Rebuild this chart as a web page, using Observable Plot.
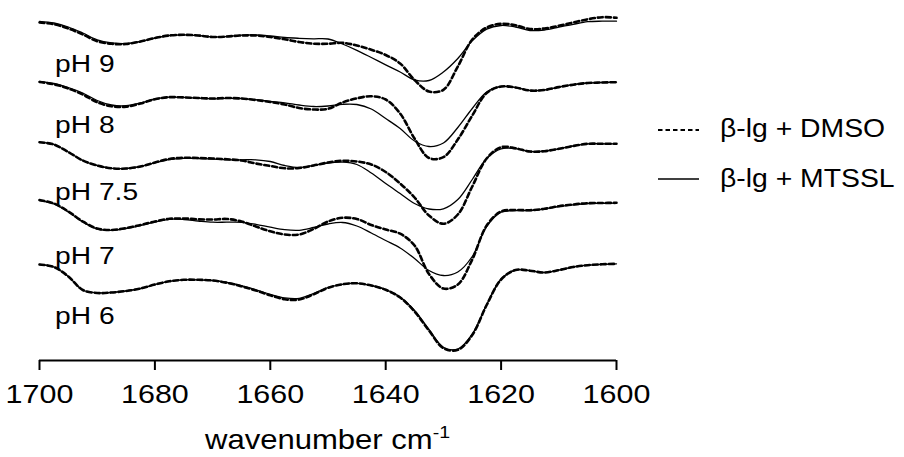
<!DOCTYPE html>
<html><head><meta charset="utf-8">
<script src="https://cdn.jsdelivr.net/npm/d3@7"></script>
<script src="https://cdn.jsdelivr.net/npm/@observablehq/plot@0.6"></script>
<style>
body{margin:0;background:#fff;}
#chart{position:relative;width:904px;height:457px;}
</style>
</head><body><div id="chart"></div>
<script>
// wavenumber grid (cm-1)
const wavenumbers = [1700,1697.5,1695,1692.5,1690,1687.5,1685,1682.5,1680,1677.5,1675,1672.5,1670,1667.5,1665,1662.5,1660,1657.5,1655,1652.5,1650,1647.5,1645,1642.5,1640,1637.5,1635,1632.5,1630,1627.5,1625,1622.5,1620,1617.5,1615,1612.5,1610,1607.5,1605,1602.5,1600];
const xTicks = [1700,1680,1660,1640,1620,1600];
const phLabels = ["pH 9","pH 8","pH 7.5","pH 7","pH 6"];
const seriesNames = ["β-lg + DMSO","β-lg + MTSSL"];
// vertical stacking offset of each spectrum (a.u.)
const stackOffset = [21,81,142,200,264];

// second-derivative amplitude (a.u.), relative to each spectrum's offset
const dmso_pH9  = [-1,-2.8,-7,-13,-19.7,-22.3,-22.5,-20,-16.5,-14,-13.3,-14,-15.5,-15,-14,-14,-15.5,-17.8,-20.5,-22.2,-22.3,-21.3,-24,-28.2,-33.5,-42,-58.5,-70,-68.3,-45,-18,-6,-2.3,-3.8,-7.5,-7,-4.3,-1,2.2,4.3,3.7];
const mtssl_pH9 = [0.2,-1.5,-5.5,-11.5,-18.3,-21.3,-22,-20,-16.5,-14,-13.3,-14,-15.5,-15,-13.7,-13.5,-14.5,-16,-16.8,-17.3,-17.5,-22.5,-28.8,-36,-43.4,-50.5,-58.4,-59,-50.5,-37,-19.3,-7.6,-4,-5.5,-9,-8.5,-5.7,-2.8,-0.2,0.3,0.3];
const dmso_pH8  = [-0.5,-2.8,-7,-13,-20.7,-24.8,-25.2,-22,-17.7,-15.7,-15.9,-16.5,-17,-16.5,-17,-18.5,-20.5,-23,-26.5,-28,-27.3,-21,-16.8,-14.8,-18,-32,-57,-76.5,-75.7,-58,-34,-11.5,-5,-6,-9,-8.5,-5.6,-3.2,-1.5,-1,-0.7];
const mtssl_pH8 = [0.2,-2,-6,-11.5,-19,-23.5,-24.2,-21.5,-17.5,-15.7,-15.9,-16.7,-17.3,-16.8,-17,-18.2,-19.8,-21.3,-23.5,-25,-24.5,-22.8,-23,-27.5,-37,-47,-59.5,-65,-61.5,-46,-27,-10.5,-5,-6,-9,-8.5,-5.6,-3.2,-1.5,-1,-0.7];
const dmso_pH75  = [0.3,-2,-9.5,-18,-23,-25.8,-26,-24,-20,-16.5,-15.3,-15.5,-16,-16.8,-18,-21,-23.5,-25.8,-25.5,-23,-20,-18.3,-19,-22,-29.5,-41,-55,-73,-81.3,-72,-44,-16,-4.7,-5.8,-9,-8.7,-6.3,-3.5,-1.3,-1.3,-1.3];
const mtssl_pH75 = [0.3,-2,-9.5,-18,-23,-25.8,-26,-24,-20.3,-17,-15.8,-16,-16.6,-17.3,-17.3,-17.3,-19,-23,-25,-23,-20.5,-19.7,-22,-30.5,-41,-51,-61,-66.5,-66.3,-57,-37,-16,-6.3,-6.2,-9,-8.7,-6.3,-3.5,-1.3,-1.3,-1.3];
const dmso_pH7  = [0.5,-3,-11,-21,-28,-29.5,-27.5,-24.5,-21,-18.3,-18,-18.8,-19,-18.5,-21,-26,-30.8,-34,-34,-28.5,-21,-17.3,-18.5,-24.5,-29,-33.2,-45,-73.5,-88,-84,-59,-25,-11,-9.5,-9.7,-8.3,-5.7,-4,-2.7,-2.5,-2.3];
const mtssl_pH7 = [0,-3.5,-11.5,-21.5,-28.5,-29.8,-28,-25,-21.5,-18.8,-19,-20.5,-21.7,-21.7,-21.8,-23.8,-26.7,-29.2,-29.8,-27,-23.5,-22,-25.5,-32.5,-40,-47.5,-58,-70,-75,-71.5,-56,-26,-11.7,-10.2,-10,-8.5,-6,-4.3,-3,-2.8,-2.7];
const dmso_pH6  = [0,-2.5,-12,-25.5,-28.5,-28,-26.5,-24,-20,-16.8,-15.3,-15.3,-16,-18.3,-21.8,-26,-30.8,-34.8,-35,-29.8,-23.3,-19.8,-18.8,-21,-25.3,-33,-47,-66,-83.7,-85.3,-70.5,-40.5,-15,-5.5,-6.2,-8,-5.6,-2.5,-0.7,0.2,0.7];
const mtssl_pH6 = [0,-2.5,-12,-25.5,-28.3,-27.8,-26.5,-24,-20,-16.8,-15.3,-15.3,-16,-18,-21.2,-25.3,-29.8,-33.3,-33.8,-29,-23,-19.8,-18.8,-21,-25,-32.5,-46,-65,-82.7,-84.5,-69.5,-40,-14.5,-5.5,-6.2,-8,-5.6,-2.5,-0.7,0.2,0.7];

const dmsoSeries  = [dmso_pH9, dmso_pH8, dmso_pH75, dmso_pH7, dmso_pH6];
const mtsslSeries = [mtssl_pH9, mtssl_pH8, mtssl_pH75, mtssl_pH7, mtssl_pH6];

function rowsFor(seriesList, name) {
  const out = [];
  seriesList.forEach((vals, k) => {
    vals.forEach((v, i) => out.push({w: wavenumbers[i], y: v - stackOffset[k], ph: phLabels[k], sample: name}));
  });
  return out;
}
const dmsoRows = rowsFor(dmsoSeries, seriesNames[0]);
const mtsslRows = rowsFor(mtsslSeries, seriesNames[1]);

// label anchors (layout)
const labelX = 1697.3;
const labelBaseline = [-71, -132.5, -199, -263, -323];
const labelRows = phLabels.map((t, k) => ({t, y: labelBaseline[k]}));

const FONT = "'Liberation Sans', Arial, Helvetica, sans-serif";

const plot = Plot.plot({
  width: 904, height: 457,
  marginLeft: 39, marginRight: 288, marginTop: 0, marginBottom: 97,
  style: {fontFamily: FONT, fontSize: "26.5px", background: "white", color: "black", overflow: "visible"},
  x: {domain: [1700, 1600]},
  y: {domain: [-360, 0], axis: null},
  marks: [
    Plot.line(mtsslRows, {x: "w", y: "y", z: "ph", stroke: "black", strokeWidth: 1.3, curve: "catmull-rom"}),
    Plot.line(dmsoRows, {x: "w", y: "y", z: "ph", stroke: "black", strokeWidth: 2.6, strokeDasharray: "5,3", curve: "catmull-rom"}),
    Plot.text(labelRows, {x: () => labelX, y: "y", text: "t", textAnchor: "start", lineAnchor: "bottom", fontSize: 24.5, fill: "black"}),
    Plot.ruleY([-360], {stroke: "black", strokeWidth: 2}),
    Plot.axisX({ticks: xTicks, tickSize: 10, tickPadding: 14, tickFormat: d => String(d), label: null, strokeWidth: 2, fontSize: 26.5})
  ]
});

const svg = d3.select(plot);
// widen lettering horizontally about each text's own anchor (the original's type is wide)
function widen(sel, s) {
  sel.each(function() {
    const el = d3.select(this);
    const xa = el.attr("x");
    const ax = (xa != null && isFinite(+xa)) ? +xa : 0;
    const t = el.attr("transform") || "";
    el.attr("transform", `${t} translate(${ax},0) scale(${s},1) translate(${-ax},0)`);
  });
}
widen(svg.selectAll("text"), 1.15);

// axis title
const title = svg.append("text")
  .attr("x", 327.5).attr("y", 449)
  .attr("text-anchor", "middle")
  .attr("font-family", FONT).attr("font-size", 27).attr("fill", "black");
title.append("tspan").text("wavenumber cm");
title.append("tspan").attr("dy", -11).attr("font-size", 17).text("-1");
widen(title, 1.15);

// legend
const leg = svg.append("g").attr("font-family", FONT).attr("font-size", 26.5).attr("fill", "black");
const legItems = [
  {name: seriesNames[0], dash: "4.5,3", w: 2.2, ly: 130, ty: 137},
  {name: seriesNames[1], dash: null, w: 1.3, ly: 179, ty: 187}
];
legItems.forEach(it => {
  const l = leg.append("line").attr("x1", 658).attr("x2", 699).attr("y1", it.ly).attr("y2", it.ly)
    .attr("stroke", "black").attr("stroke-width", it.w);
  if (it.dash) l.attr("stroke-dasharray", it.dash);
  leg.append("text").attr("x", 720).attr("y", it.ty).attr("text-anchor", "start").text(it.name);
});
widen(leg.selectAll("text"), 1.07);

document.getElementById("chart").appendChild(plot);
</script>
</body></html>
